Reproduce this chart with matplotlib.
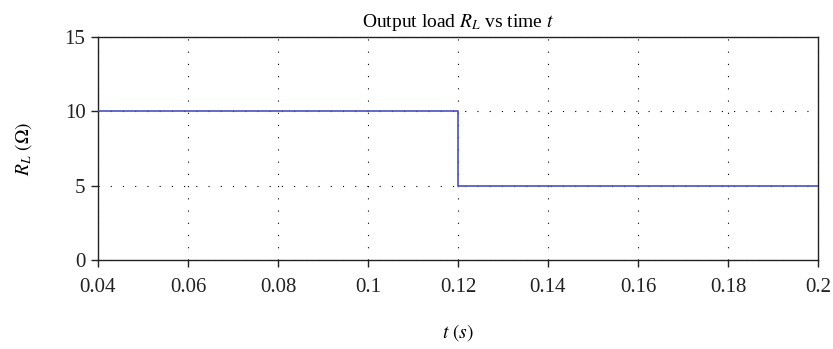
import matplotlib
matplotlib.use("Agg")
import matplotlib.pyplot as plt

plt.rcParams['font.family'] = ['Liberation Serif', 'DejaVu Serif']
plt.rcParams['mathtext.fontset'] = 'stix'

time_s = [0.04, 0.12, 0.12, 0.2]
load_ohm = [10, 10, 5, 5]
x_ticks = [0.04, 0.06, 0.08, 0.1, 0.12, 0.14, 0.16, 0.18, 0.2]
x_labels = ['0.04', '0.06', '0.08', '0.1', '0.12', '0.14', '0.16', '0.18', '0.2']
y_ticks = [0, 5, 10, 15]

fig = plt.figure(figsize=(8.33, 3.49), dpi=100)
ax = fig.add_axes([0.1176, 0.255, 0.8644, 0.639])

ax.plot(time_s, load_ohm, color='#4a50c0', linewidth=1.2, zorder=3)

ax.set_xlim(0.04, 0.2)
ax.set_ylim(0, 15)
ax.set_xticks(x_ticks)
ax.set_xticklabels(x_labels)
ax.set_yticks(y_ticks)
ax.tick_params(direction='out', length=5, width=1, labelsize=15, colors='#222222')
ax.tick_params(axis='x', pad=8)
ax.tick_params(axis='y', pad=4)
for s in ax.spines.values():
    s.set_linewidth(1.0)
    s.set_color('#222222')

ax.grid(True, color='black', linestyle=(0, (1, 10)), linewidth=0.8)

ax.set_title('Output load $R_L$ vs time $t$', fontsize=14, pad=7)
ax.set_xlabel('$t$ $(s)$', fontsize=14, labelpad=18)
ax.set_ylabel(r'$R_L$ $(\Omega)$', fontsize=14, labelpad=22)

fig.savefig('out.png', dpi=100)
